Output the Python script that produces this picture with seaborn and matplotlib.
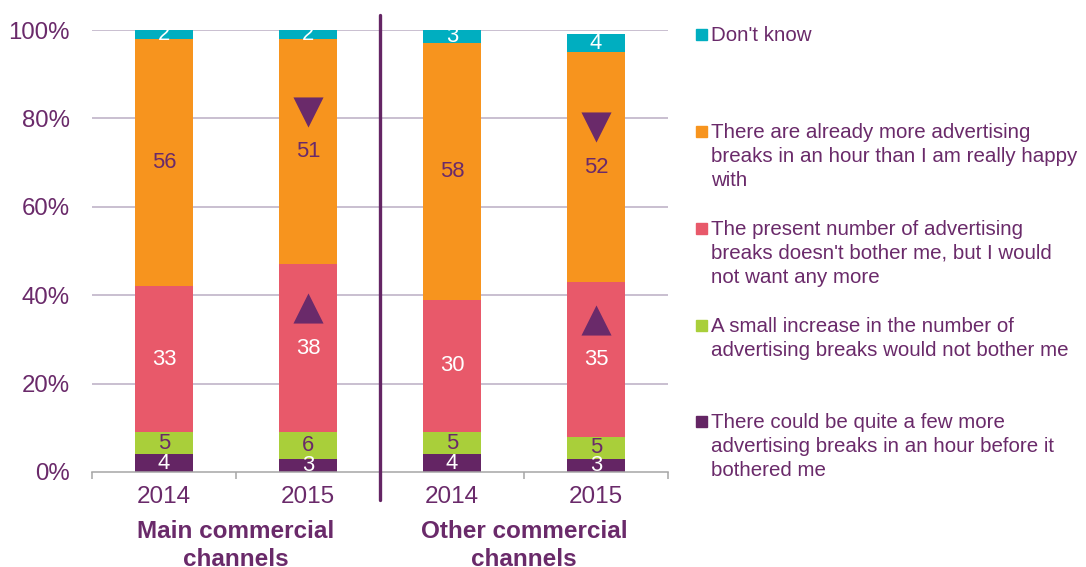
import matplotlib
matplotlib.use("Agg")
import matplotlib.pyplot as plt
import matplotlib.patches as mpatches
import numpy as np
import pandas as pd
import seaborn as sns

# Survey shares (%) per bar, stacked bottom to top
bars = ["Main 2014", "Main 2015", "Other 2014", "Other 2015"]
years = ["2014", "2015", "2014", "2015"]
groups = ["Main commercial\nchannels", "Other commercial\nchannels"]

answers = [
    "There could be quite a few more advertising breaks in an hour before it bothered me",
    "A small increase in the number of advertising breaks would not bother me",
    "The present number of advertising breaks doesn't bother me, but I would not want any more",
    "There are already more advertising breaks in an hour than I am really happy with",
    "Don't know",
]
quite_a_few_more = [4, 3, 4, 3]
small_increase = [5, 6, 5, 5]
no_more = [33, 38, 30, 35]
already_too_many = [56, 51, 58, 52]
dont_know = [2, 2, 3, 4]
series = [quite_a_few_more, small_increase, no_more, already_too_many, dont_know]

legend_lines = [
    ["Don't know"],
    ["There are already more advertising", "breaks in an hour than I am really happy", "with"],
    ["The present number of advertising", "breaks doesn't bother me, but I would", "not want any more"],
    ["A small increase in the number of", "advertising breaks would not bother me"],
    ["There could be quite a few more", "advertising breaks in an hour before it", "bothered me"],
]

# significant change markers: (bar index, answer index, direction)
changes = [(1, 3, "down"), (1, 2, "up"), (3, 3, "down"), (3, 2, "up")]

PURPLE = "#642564"
TEXT = "#6A2A6A"
colors = ["#642564", "#A9CF3A", "#E8596A", "#F7941E", "#00AEC0"]
label_colors = ["white", TEXT, "white", TEXT, "white"]

sns.set_theme(style="white")
plt.rcParams["font.family"] = ["Liberation Sans", "DejaVu Sans"]

rows = []
for a, vals in zip(answers, series):
    for b, v in zip(bars, vals):
        rows.append({"bar": b, "answer": a, "share": v})
df = pd.DataFrame(rows)

fig = plt.figure(figsize=(10.86, 5.67), dpi=100)
W, H = 1086, 567
ax = fig.add_axes([92 / W, 95 / H, 576 / W, 442 / H])

# histplot stacks the last hue level at the bottom
sns.histplot(
    data=df, x="bar", weights="share", hue="answer", hue_order=answers[::-1],
    multiple="stack", discrete=True, shrink=0.4, palette=dict(zip(answers, colors)),
    edgecolor="none", linewidth=0, alpha=1, legend=False, ax=ax,
)

ax.set_xlim(-0.5, 3.5)
ax.set_ylim(0, 100)
ax.set_xlabel("")
ax.set_ylabel("")

# gridlines and axes
for v in range(20, 101, 20):
    ax.axhline(v, color="#BBAEC4", lw=1.1, zorder=0)
for s in ["top", "right", "left"]:
    ax.spines[s].set_visible(False)
ax.spines["bottom"].set_color("#A6A6A6")
ax.spines["bottom"].set_linewidth(1.1)

ax.set_yticks(range(0, 101, 20))
ax.set_yticklabels([f"{v}%" for v in range(0, 101, 20)])
ax.tick_params(axis="y", length=0, pad=16, labelsize=17.3, labelcolor=TEXT)

ax.set_xticks(range(len(bars)))
ax.set_xticklabels(years)
ax.tick_params(axis="x", which="major", length=0, pad=10, labelsize=17.5, labelcolor=TEXT)
ax.set_xticks(np.arange(-0.5, len(bars), 1.0), minor=True)
ax.tick_params(axis="x", which="minor", length=5, width=1.1, color="#A6A6A6", direction="out", bottom=True)

# segment labels
cum = np.zeros(len(bars))
mids = []
for k, vals in enumerate(series):
    vals = np.array(vals, dtype=float)
    mid = cum + vals / 2
    mids.append(mid)
    for i, (m, v) in enumerate(zip(mid, vals)):
        ax.text(i, m, f"{int(v)}", ha="center", va="center", fontsize=15.8,
                color=label_colors[k], zorder=5)
    cum = cum + vals

# change markers above their labels
for i, k, d in changes:
    ax.scatter([i], [mids[k][i] + 9], marker="v" if d == "down" else "^",
               s=470, color="#6A2A6A", linewidths=0, zorder=6)

# divider between groups
ax.plot([1.5, 1.5], [-6.3, 103.4], color=PURPLE, lw=2.4, clip_on=False, zorder=4)

# group captions
for gx, g in zip([0.5, 2.5], groups):
    l1, l2 = g.split("\n")
    ax.text(gx, -0.149, l1, transform=ax.get_xaxis_transform(), ha="center", va="baseline",
            fontsize=17.5, fontweight="bold", color=TEXT)
    ax.text(gx, -0.213, l2, transform=ax.get_xaxis_transform(), ha="center", va="baseline",
            fontsize=17.5, fontweight="bold", color=TEXT)

# legend on the right
legend_colors = colors[::-1]
first_baseline = [41, 138, 235, 332, 428]
for lines, col, b0 in zip(legend_lines, legend_colors, first_baseline):
    fig.patches.append(mpatches.Rectangle(((696) / W, (H - b0 + 1) / H), 11 / W, 11 / H,
                                          transform=fig.transFigure, color=col))
    for j, line in enumerate(lines):
        fig.text(711 / W, (H - (b0 + 23.8 * j)) / H, line, ha="left", va="baseline",
                 fontsize=14.8, color=TEXT)

fig.savefig("out.png", dpi=100)
